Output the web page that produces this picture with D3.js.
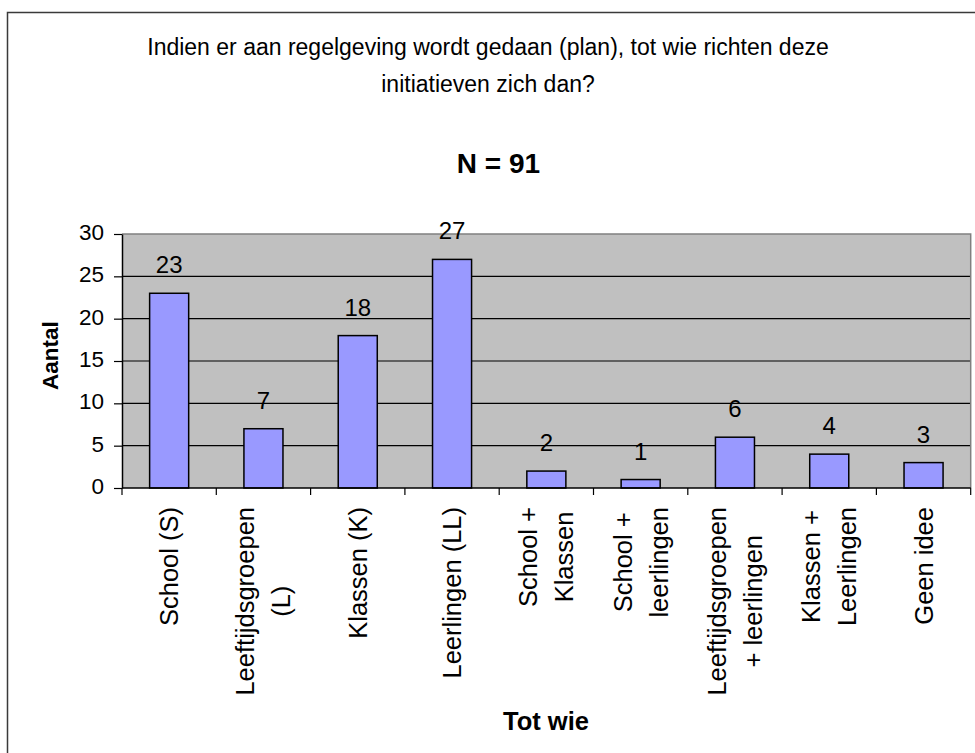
<!DOCTYPE html>
<html>
<head>
<meta charset="utf-8">
<script src="https://cdn.jsdelivr.net/npm/d3@7"></script>
<style>
  html, body { margin: 0; padding: 0; background: #fff; }
  svg { display: block; font-family: "Liberation Sans", Arial, Helvetica, sans-serif; }
</style>
</head>
<body>
<svg id="chart" width="975" height="753"></svg>
<script>
// ---- data ----
const categories = [
  ["School (S)"],
  ["Leeftijdsgroepen", "(L)"],
  ["Klassen (K)"],
  ["Leerlingen (LL)"],
  ["School +", "Klassen"],
  ["School +", "leerlingen"],
  ["Leeftijdsgroepen", "+ leerlingen"],
  ["Klassen +", "Leerlingen"],
  ["Geen idee"]
];
const values = [23, 7, 18, 27, 2, 1, 6, 4, 3];
const yTicks = [0, 5, 10, 15, 20, 25, 30];
const titleLines = ["Indien er aan regelgeving wordt gedaan (plan), tot wie richten deze", "initiatieven zich dan?"];
const subtitle = "N = 91";
const yTitle = "Aantal";
const xTitle = "Tot wie";

// ---- layout ----
const svg = d3.select("#chart");
const plot = { left: 122, right: 970.7, top: 234, bottom: 488 };
const keys = categories.map((c, i) => i);

const x = d3.scaleBand().domain(keys).range([plot.left, plot.right]).padding(0);
const y = d3.scaleLinear().domain([0, 30]).range([plot.bottom, plot.top]);

// outer frame
svg.append("rect").attr("x", 0).attr("y", 0).attr("width", 975).attr("height", 753).attr("fill", "#fff");
svg.append("path")
  .attr("d", `M7.5,760 L7.5,12.5 L985,12.5`)
  .attr("fill", "none").attr("stroke", "#3a3a3a").attr("stroke-width", 1.5);

// plot background
svg.append("rect")
  .attr("x", plot.left).attr("y", plot.top)
  .attr("width", plot.right - plot.left).attr("height", plot.bottom - plot.top)
  .attr("fill", "#c0c0c0");

// gridlines
svg.append("g").selectAll("line")
  .data(yTicks.filter(t => t > 0 && t < 30))
  .join("line")
  .attr("x1", plot.left).attr("x2", plot.right)
  .attr("y1", d => y(d)).attr("y2", d => y(d))
  .attr("stroke", "#000").attr("stroke-width", 1.1);

// plot border top/right gray
svg.append("path")
  .attr("d", `M${plot.left},${plot.top} L${plot.right},${plot.top} L${plot.right},${plot.bottom}`)
  .attr("fill", "none").attr("stroke", "#808080").attr("stroke-width", 1.5);

// bars
const bw = x.bandwidth() * 0.414;
svg.append("g").selectAll("rect")
  .data(values)
  .join("rect")
  .attr("x", (d, i) => x(i) + x.bandwidth() / 2 - bw / 2)
  .attr("y", d => y(d))
  .attr("width", bw)
  .attr("height", d => y(0) - y(d))
  .attr("fill", "#9999ff")
  .attr("stroke", "#000")
  .attr("stroke-width", 1.5);

// value labels
svg.append("g").selectAll("text")
  .data(values)
  .join("text")
  .attr("x", (d, i) => x(i) + x.bandwidth() / 2)
  .attr("y", d => y(d) - 20)
  .attr("text-anchor", "middle")
  .attr("font-size", 24)
  .attr("fill", "#000")
  .text(d => d);

// y axis
const yAxis = d3.axisLeft(y).tickValues(yTicks).tickSize(8).tickPadding(10).tickSizeOuter(0);
const gy = svg.append("g").attr("transform", `translate(${plot.left},0)`).call(yAxis);
gy.select(".domain").attr("stroke", "#000").attr("stroke-width", 1.5);
gy.selectAll(".tick line").attr("stroke", "#000").attr("stroke-width", 1.2);
gy.selectAll(".tick text")
  .attr("font-size", 22.5).attr("font-family", "Liberation Sans, Arial, sans-serif")
  .attr("fill", "#000").attr("dy", "0.24em");

// x axis line + ticks at band boundaries
svg.append("line")
  .attr("x1", plot.left).attr("x2", plot.right)
  .attr("y1", plot.bottom).attr("y2", plot.bottom)
  .attr("stroke", "#000").attr("stroke-width", 1.5);
const boundaries = keys.map(k => x(k)).concat([plot.right]);
svg.append("g").selectAll("line")
  .data(boundaries)
  .join("line")
  .attr("x1", d => d).attr("x2", d => d)
  .attr("y1", plot.bottom).attr("y2", plot.bottom + 7)
  .attr("stroke", "#000").attr("stroke-width", 1.2);

// x category labels (rotated, block top-aligned, lines centered)
const labelTop = 507;
const lineGap = 36;
const xl = svg.append("g");
categories.forEach((lines, i) => {
  const cx = x(i) + x.bandwidth() / 2;
  const g = xl.append("g");
  const texts = lines.map((ln, j) => g.append("text")
    .attr("font-size", 25.5).attr("fill", "#000")
    .attr("text-anchor", "middle")
    .attr("dominant-baseline", "central")
    .text(ln));
  const maxLen = d3.max(texts, t => t.node().getComputedTextLength());
  const cy = labelTop + maxLen / 2;
  texts.forEach((t, j) => {
    const lx = cx + (j - (lines.length - 1) / 2) * lineGap;
    t.attr("transform", `translate(${lx},${cy}) rotate(-90)`);
  });
});

// titles
const tg = svg.append("g");
titleLines.forEach((t, i) => {
  tg.append("text")
    .attr("x", 488).attr("y", 55 + i * 37)
    .attr("text-anchor", "middle").attr("font-size", 23).attr("fill", "#000")
    .text(t);
});
svg.append("text")
  .attr("x", 498.5).attr("y", 172.5)
  .attr("text-anchor", "middle").attr("font-size", 28).attr("font-weight", "bold")
  .text(subtitle);

// axis titles
svg.append("text")
  .attr("transform", `translate(58,355.7) rotate(-90)`)
  .attr("text-anchor", "middle").attr("font-size", 22.5).attr("font-weight", "bold")
  .text(yTitle);
svg.append("text")
  .attr("x", 546).attr("y", 729.5)
  .attr("text-anchor", "middle").attr("font-size", 25.5).attr("font-weight", "bold")
  .text(xTitle);
</script>
</body>
</html>
